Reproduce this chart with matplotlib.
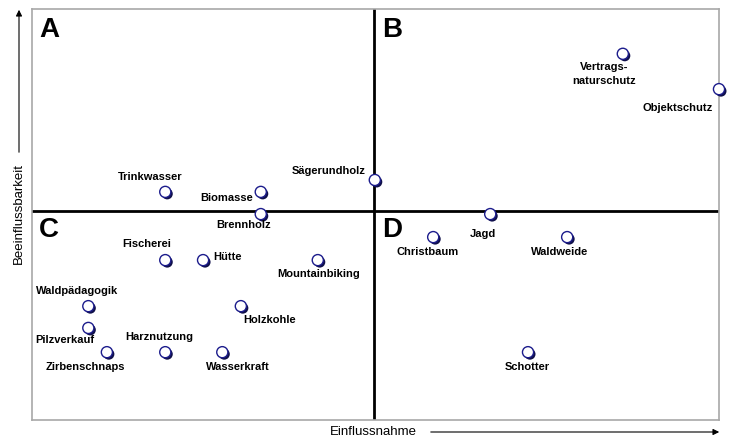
import matplotlib
matplotlib.use("Agg")
import matplotlib.pyplot as plt
import matplotlib.patheffects as pe

plt.rcParams["font.family"] = ["Liberation Sans", "DejaVu Sans"]

# positions on a 0..10 scale (Einflussnahme, Beeinflussbarkeit)
names = ["Trinkwasser", "Biomasse", "Brennholz", "Sägerundholz",
         "Vertrags-\nnaturschutz", "Objektschutz", "Jagd", "Christbaum",
         "Waldweide", "Schotter", "Fischerei", "Hütte", "Mountainbiking",
         "Waldpädagogik", "Holzkohle", "Pilzverkauf", "Zirbenschnaps",
         "Harznutzung", "Wasserkraft"]
einfluss = [1.94, 3.33, 3.33, 4.99, 8.60, 10.0, 6.67, 5.84, 7.79, 7.22,
            1.94, 2.49, 4.16, 0.82, 3.04, 0.82, 1.09, 1.94, 2.77]
beeinfl = [5.55, 5.55, 5.01, 5.84, 8.91, 8.05, 5.01, 4.45, 4.45, 1.65,
           3.89, 3.89, 3.89, 2.77, 2.77, 2.24, 1.65, 1.65, 1.65]

x_split = 4.98
y_split = 5.09

# label offsets in pixels (dx, dy) and horizontal alignment
label_off = [(-15, 15, "center"), (-8, -6, "right"), (-17, -11, "center"),
             (-9, 9, "right"), (-19, -20, "center"), (-41, -19, "center"),
             (-7, -20, "center"), (-6, -15, "center"), (-8, -15, "center"),
             (-1, -15, "center"), (-19, 16, "center"), (10, 3, "left"),
             (1, -14, "center"), (-11, 15, "center"), (29, -14, "center"),
             (-24, -12, "center"), (-22, -15, "center"), (-6, 15, "center"),
             (16, -15, "center")]

fig = plt.figure(figsize=(7.35, 4.48), dpi=100)
ax = fig.add_axes([32 / 735, 28 / 448, 687 / 735, 411 / 448])
ax.set_xlim(0, 10)
ax.set_ylim(0, 10)
ax.set_xticks([])
ax.set_yticks([])
for s in ax.spines.values():
    s.set_color("#a8a8a8")
    s.set_linewidth(1.2)

ax.axvline(x_split, color="black", lw=2)
ax.axhline(y_split, color="black", lw=2)

sc = ax.scatter(einfluss, beeinfl, s=64, facecolor="white",
                edgecolor="#1c1c8c", linewidth=1.0, zorder=5, clip_on=False)
sc.set_path_effects([
    pe.SimplePatchShadow(offset=(1.4, -1.4), shadow_rgbFace="#10104a", alpha=1.0),
    pe.Normal(),
])

for n, xv, yv, (dx, dy, ha) in zip(names, einfluss, beeinfl, label_off):
    ax.annotate(n, (xv, yv), xytext=(dx, dy), textcoords="offset pixels",
                ha=ha, va="center", fontsize=8, fontweight="bold",
                linespacing=1.45, zorder=6, annotation_clip=False)

# quadrant letters
for letter, fx, fy in [("A", 39, 17), ("B", 382, 17), ("C", 39, 217), ("D", 382, 217)]:
    fig.text(fx / 735, 1 - fy / 448, letter, ha="left", va="top",
             fontsize=20, fontweight="bold")

# axis titles with arrows
fig.text(330 / 735, 1 - 432 / 448, "Einflussnahme", ha="left", va="center",
         fontsize=9.5)
fig.add_artist(matplotlib.patches.FancyArrowPatch(
    (428 / 735, 1 - 432 / 448), (722 / 735, 1 - 432 / 448),
    transform=fig.transFigure, arrowstyle="-|>", mutation_scale=9,
    color="black", lw=0.8))
fig.text(19 / 735, 1 - 214 / 448, "Beeinflussbarkeit", ha="center",
         va="center", rotation=90, fontsize=9.5)
fig.add_artist(matplotlib.patches.FancyArrowPatch(
    (19 / 735, 1 - 155 / 448), (19 / 735, 1 - 7 / 448),
    transform=fig.transFigure, arrowstyle="-|>", mutation_scale=9,
    color="black", lw=0.8))

fig.savefig("out.png", dpi=100)
